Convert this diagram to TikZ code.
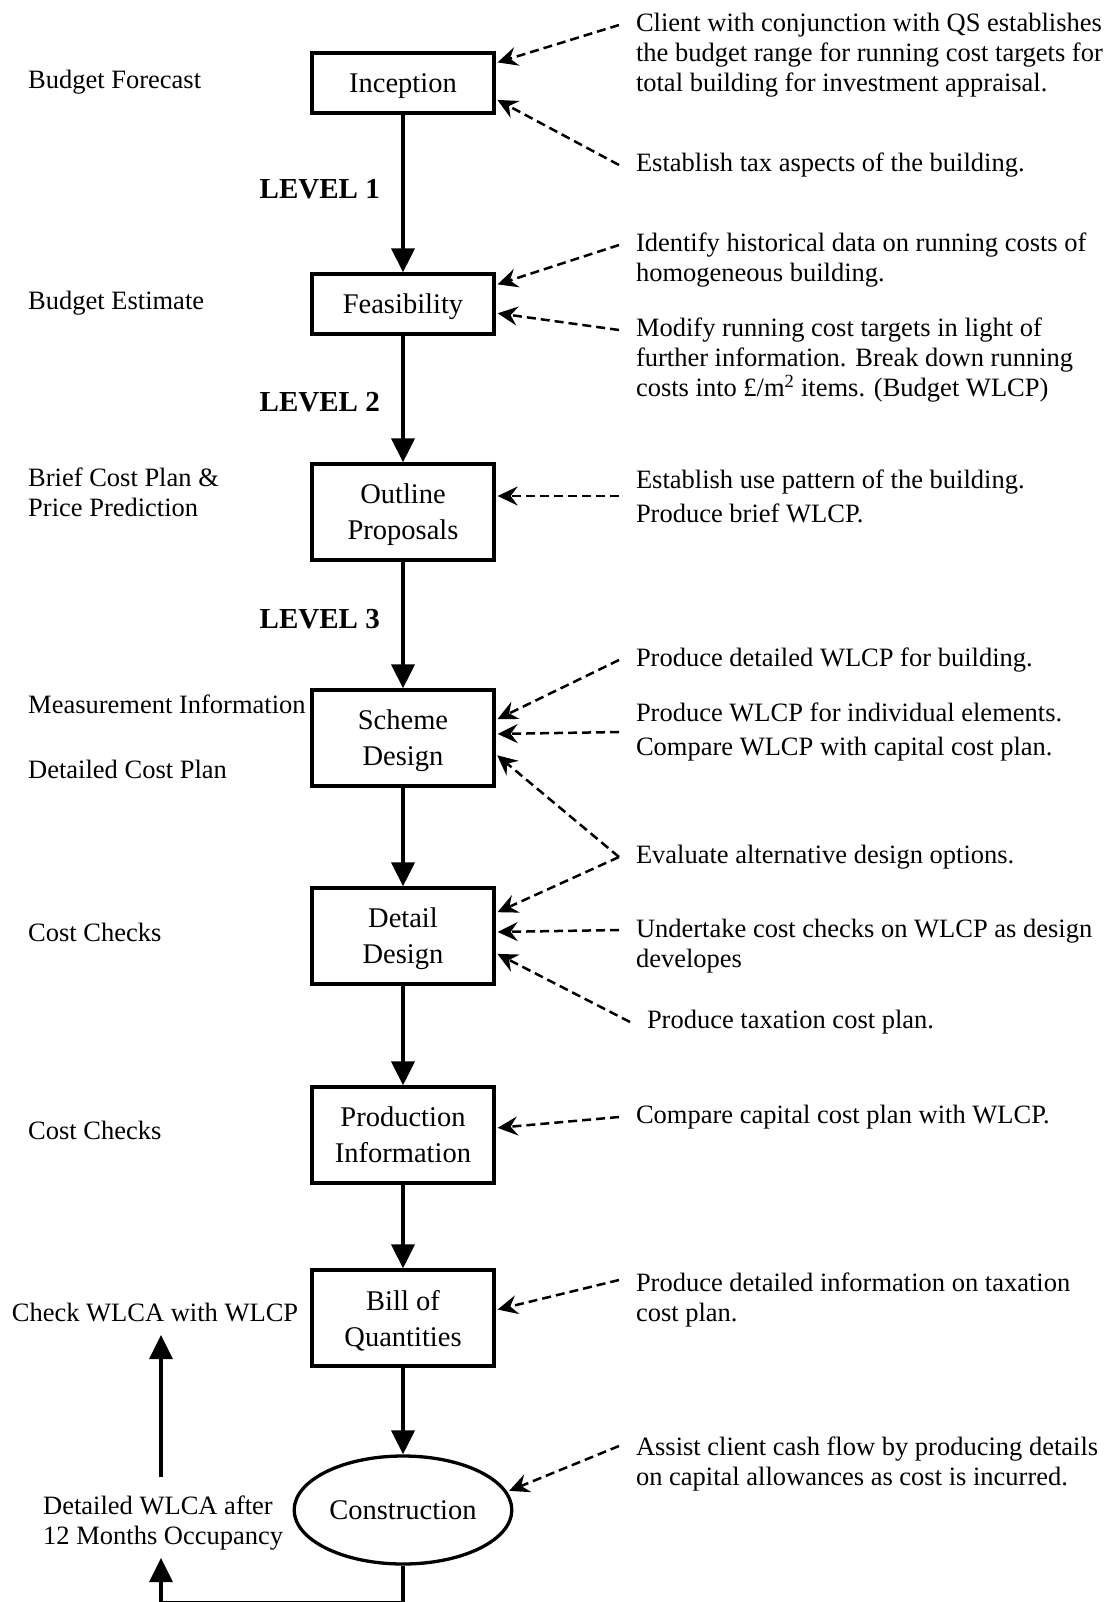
\documentclass[tikz,border=0pt]{standalone}
\usepackage{fontspec}
\setmainfont{Liberation Serif}
\usetikzlibrary{arrows.meta,shapes.geometric}

\newcommand{\bodysize}{\fontsize{26.5}{30}\selectfont}
\newcommand{\boxsize}{\fontsize{28.5}{36}\selectfont}

\tikzset{
  every node/.style={font=\bodysize},
  stage/.style={draw, line width=3.3pt, minimum width=182pt, minimum height=60pt, align=center, inner sep=2pt, text depth=0pt, font=\boxsize},
  tall/.style={minimum height=96pt},
  side/.style={anchor=west, align=left, inner sep=0pt},
  note/.style={anchor=west, align=left, inner sep=0pt, outer xsep=17pt},
  level/.style={anchor=east, inner sep=0pt, font=\fontsize{29}{30}\selectfont\bfseries},
  flow/.style={line width=3.5pt, -{Triangle[length=24pt,width=23pt]}},
  hint/.style={line width=2.5pt, dash pattern=on 9pt off 5pt, shorten >=2pt, -{Stealth[length=20pt,width=19pt,inset=7pt]}}
}

\begin{document}
\begin{tikzpicture}[x=1pt, y=-1pt]
  \useasboundingbox (0,0) rectangle (1115,1602);

  \node[stage] (incep) at (403,83) {Inception};
  \node[stage] (feas) at (403,304) {Feasibility};
  \node[stage,tall] (outline) at (403,512) {Outline\\Proposals};
  \node[stage,tall] (scheme) at (403,738) {Scheme\\Design};
  \node[stage,tall] (detail) at (403,936) {Detail\\Design};
  \node[stage,tall] (prodinfo) at (403,1135) {Production\\Information};
  \node[stage,tall] (bill) at (403,1318) {Bill of\\Quantities};
  \node[draw, ellipse, line width=3.3pt, minimum width=215pt, minimum height=108pt, text depth=0pt, font=\boxsize] (constr) at (403,1510) {Construction};

  \node[side] (fcast) at (28,82) {Budget Forecast};
  \node[side] (estim) at (28,303) {Budget Estimate};
  \node[side] (brief) at (28,492) {Brief Cost Plan \&\\Price Prediction};
  \node[side] (measure) at (28,704) {Measurement Information};
  \node[side] (dcplan) at (28,769) {Detailed Cost Plan};
  \node[side] (checksa) at (28,932) {Cost Checks};
  \node[side] (checksb) at (28,1130) {Cost Checks};
  \node[inner sep=0pt] (checkwl) at (155,1312) {Check WLCA with WLCP};
  \node[side] (occup) at (43,1523) {Detailed WLCA after\\12 Months Occupancy};

  \node[level] (lvone) at (380,189) {LEVEL 1};
  \node[level] (lvtwo) at (380,402) {LEVEL 2};
  \node[level] (lvthree) at (380,619) {LEVEL 3};

  \node[note] (clientnote) at (619,55) {Client with conjunction with QS establishes\\the budget range for running cost targets for\\total building for investment appraisal.};
  \node[note] (taxnote) at (619,165) {Establish tax aspects of the building.};
  \node[note] (histnote) at (619,260) {Identify historical data on running costs of\\homogeneous building.};
  \node[note] (modnote) at (619,360) {Modify running cost targets in light of\\further information. Break down running\\costs into £/m\textsuperscript{2} items. (Budget WLCP)};
  \node[note] (usenote) at (619,496) {Establish use pattern of the building.\\[4pt]Produce brief WLCP.};
  \node[note] (wlcpnote) at (619,660) {Produce detailed WLCP for building.};
  \node[note] (elemnote) at (619,732) {Produce WLCP for individual elements.\\[4pt]Compare WLCP with capital cost plan.};
  \node[note] (evalnote) at (619,857) {Evaluate alternative design options.};
  \node[note] (devnote) at (619,946) {Undertake cost checks on WLCP as design\\developes};
  \node[note] (taxplan) at (630,1022) {Produce taxation cost plan.};
  \node[note] (capnote) at (619,1117) {Compare capital cost plan with WLCP.};
  \node[note] (infonote) at (619,1300) {Produce detailed information on taxation\\cost plan.};
  \node[note] (cashnote) at (619,1464) {Assist client cash flow by producing details\\on capital allowances as cost is incurred.};

  \draw[flow] (incep) -- (feas);
  \draw[flow] (feas) -- (outline);
  \draw[flow] (outline) -- (scheme);
  \draw[flow] (scheme) -- (detail);
  \draw[flow] (detail) -- (prodinfo);
  \draw[flow] (prodinfo) -- (bill);
  \draw[flow] (bill) -- (constr);

  \coordinate (loopR) at (403,1602.5);
  \coordinate (loopL) at (161,1602.5);
  \coordinate (loopend) at (161,1558);
  \draw[flow] (constr.south) -- (loopR) -- (loopL) -- (loopend);
  \coordinate (upfrom) at (161,1477);
  \coordinate (upto) at (161,1335);
  \draw[flow] (upfrom) -- (upto);

  \draw[hint] ([yshift=30pt]clientnote.west) -- ([yshift=20pt]incep.east);
  \draw[hint] (taxnote.west) -- ([yshift=-16pt]incep.east);
  \draw[hint] ([yshift=15pt]histnote.west) -- ([yshift=19pt]feas.east);
  \draw[hint] ([yshift=30pt]modnote.west) -- ([yshift=-9pt]feas.east);
  \draw[hint] (usenote.west) -- (usenote.west -| outline.east);
  \draw[hint] (wlcpnote.west) -- ([yshift=18pt]scheme.east);
  \draw[hint] (elemnote.west) -- ([yshift=4pt]scheme.east);
  \draw[hint] (evalnote.west) -- ([yshift=-16pt]scheme.east);
  \draw[hint] (evalnote.west) -- ([yshift=23pt]detail.east);
  \draw[hint] ([yshift=16pt]devnote.west) -- ([yshift=4pt]detail.east);
  \draw[hint] (taxplan.west) -- ([yshift=-17pt]detail.east);
  \draw[hint] (capnote.west) -- ([yshift=7pt]prodinfo.east);
  \draw[hint] ([yshift=20pt]infonote.west) -- ([yshift=8pt]bill.east);
  \draw[hint] ([yshift=18pt]cashnote.west) -- (constr.10);
\end{tikzpicture}
\end{document}
